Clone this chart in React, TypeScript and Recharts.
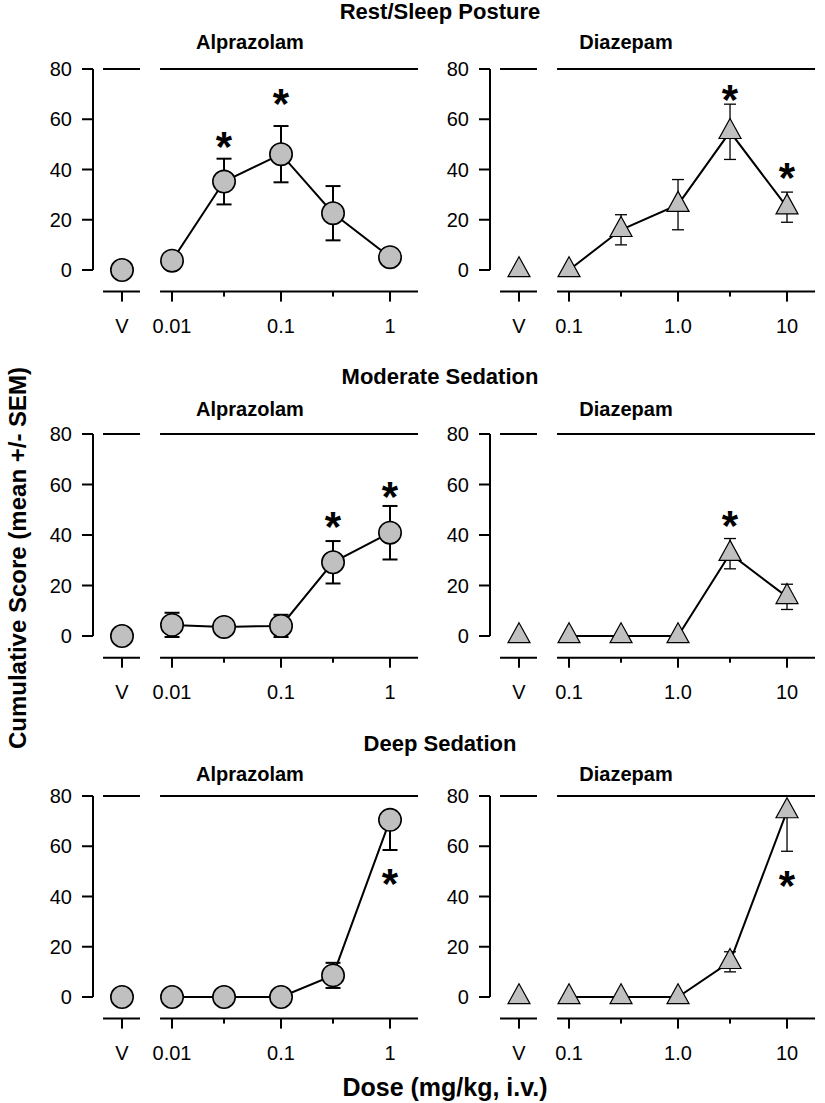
import React from 'react';
import {
  ComposedChart, Line, Scatter, XAxis, YAxis, ErrorBar, ReferenceLine,
} from 'recharts';

// ---- data ----
const alprazolamDoses = [0.01, 0.03, 0.1, 0.3, 1];
const diazepamDoses = [0.1, 0.3, 1, 3, 10];
const alprazolamTickLabels = ['V', '0.01', '', '0.1', '', '1'];
const diazepamTickLabels = ['V', '0.1', '', '1.0', '', '10'];
const scoreTicks = [0, 20, 40, 60, 80];

// Rest/Sleep Posture
const restAlpVehicle = 0;
const restAlpMean = [3.7, 35.2, 46.1, 22.6, 5.1];
const restAlpSem = [0, 9.1, 11.2, 10.8, 0];
const restAlpStars = [null, 53, 70, null, null];
const restDiaVehicle = 0;
const restDiaMean = [0, 16, 26, 55, 25];
const restDiaSem = [0, 6, 10, 11, 6];
const restDiaStars = [null, null, null, 71.5, 40.5];

// Moderate Sedation
const modAlpVehicle = 0;
const modAlpMean = [4.4, 3.6, 4, 29.2, 40.9];
const modAlpSem = [4.8, 0, 4.4, 8.4, 10.6];
const modAlpStars = [null, null, null, 47, 59];
const modDiaVehicle = 0;
const modDiaMean = [0, 0, 0, 32.6, 15.5];
const modDiaSem = [0, 0, 0, 6, 5];
const modDiaStars = [null, null, null, 47.5, null];

// Deep Sedation (upper bars not drawn where they pass the top)
const deepAlpVehicle = 0;
const deepAlpMean = [0, 0, 0, 8.6, 70.5];
const deepAlpSem: (number | number[])[] = [0, 0, 0, 5, [12, 0]];
const deepAlpStars = [null, null, null, null, 49];
const deepDiaVehicle = 0;
const deepDiaMean = [0, 0, 0, 14, 74];
const deepDiaSem: (number | number[])[] = [0, 0, 0, 4, [16, 0]];
const deepDiaStars = [null, null, null, null, 48];

const FONT = '"Liberation Sans", Arial, Helvetica, sans-serif';
const GREY = '#c0c0c0';
const Y_MIN = -8.6;

function Circle({ cx, cy }: any) {
  if (cx == null || cy == null) return null;
  return <circle cx={cx} cy={cy} r={11.2} fill={GREY} stroke="#000" strokeWidth={1.6} />;
}

function Triangle({ cx, cy }: any) {
  if (cx == null || cy == null) return null;
  const pts = `${cx},${cy - 13.3} ${cx + 11},${cy + 6.7} ${cx - 11},${cy + 6.7}`;
  return <polygon points={pts} fill={GREY} stroke="#000" strokeWidth={1.2} />;
}

function Star({ cx, cy }: any) {
  if (cx == null || cy == null) return null;
  return (
    <text x={cx} y={cy + 24} textAnchor="middle" fontSize={42} fontWeight="bold"
      fontFamily={FONT} fill="#000">*</text>
  );
}

function DoseTick(props: any) {
  const { x, y, index, labels } = props;
  const label = labels[index];
  const axisY = y - 10;
  const len = label === '' ? 5 : 10;
  return (
    <g>
      <line x1={x} x2={x} y1={axisY} y2={axisY + len} stroke="#000" strokeWidth={2} />
      {label !== '' && (
        <text x={x} y={axisY + 41} textAnchor="middle" fontSize={20} fontFamily={FONT} fill="#000">
          {label}
        </text>
      )}
    </g>
  );
}

interface PanelProps {
  left: number;
  top: number;
  zero: number;
  doses: number[];
  tickLabels: string[];
  vehicle: number;
  mean: number[];
  sem: (number | number[])[];
  stars: (number | null)[];
  marker: 'circle' | 'triangle';
}

function Panel({ left, top, zero, doses, tickLabels, vehicle, mean, sem, stars, marker }: PanelProps) {
  const first = Math.log10(doses[0]);
  const xMin = first - 0.725;
  const xMax = first + 2.275;
  const vPos = first - 0.459;
  const segV = [first - 0.633, first - 0.294];
  const segMain = [first - 0.11, first + 2.257];
  const marginTop = 15;
  const plotH = (zero - top) * (80 - Y_MIN) / 80;
  const height = marginTop + plotH + 45;
  const Marker = marker === 'circle' ? Circle : Triangle;
  const thick = marker === 'circle' ? 2 : 1.3;

  const points = doses.map((d, i) => ({ x: Math.log10(d), y: mean[i], err: sem[i] }));
  const vehPoint = [{ x: vPos, y: vehicle }];
  const starPoints = doses
    .map((d, i) => ({ x: Math.log10(d), y: stars[i] }))
    .filter((p) => p.y != null);
  const xTicks = [vPos, ...doses.map((d) => Math.log10(d))];

  return (
    <div style={{ position: 'absolute', left, top: top - marginTop }}>
      <ComposedChart width={425} height={height} margin={{ top: marginTop, right: 5, bottom: 0, left: 0 }}>
        <XAxis
          type="number"
          dataKey="x"
          domain={[xMin, xMax]}
          ticks={xTicks}
          interval={0}
          axisLine={false}
          tickLine={false}
          tickSize={10}
          tickMargin={0}
          height={45}
          tick={<DoseTick labels={tickLabels} />}
        />
        <YAxis
          type="number"
          domain={[Y_MIN, 80]}
          ticks={scoreTicks}
          interval={0}
          width={93}
          axisLine={false}
          tickLine={{ stroke: '#000', strokeWidth: 2 }}
          tickSize={11}
          tickMargin={10}
          tick={{ fill: '#000', fontSize: 20, fontFamily: FONT }}
        />
        <ReferenceLine segment={[{ x: xMin, y: 0 }, { x: xMin, y: 80 }]} stroke="#000" strokeWidth={2} />
        <ReferenceLine segment={[{ x: segV[0], y: 80 }, { x: segV[1], y: 80 }]} stroke="#000" strokeWidth={2} />
        <ReferenceLine segment={[{ x: segMain[0], y: 80 }, { x: segMain[1], y: 80 }]} stroke="#000" strokeWidth={2} />
        <ReferenceLine segment={[{ x: segV[0], y: Y_MIN }, { x: segV[1], y: Y_MIN }]} stroke="#000" strokeWidth={2} />
        <ReferenceLine segment={[{ x: segMain[0], y: Y_MIN }, { x: segMain[1], y: Y_MIN }]} stroke="#000" strokeWidth={2} />
        <Line
          data={points}
          dataKey="y"
          stroke="#000"
          strokeWidth={2}
          dot={(p: any) => <Marker key={`m-${p.index}`} cx={p.cx} cy={p.cy} />}
          activeDot={false}
          isAnimationActive={false}
        >
          <ErrorBar dataKey="err" width={marker === 'circle' ? 7.5 : 6} stroke="#000" strokeWidth={thick} direction="y" />
        </Line>
        <Scatter data={vehPoint} dataKey="y" shape={(p: any) => <Marker cx={p.cx} cy={p.cy} />} isAnimationActive={false} />
        <Scatter data={starPoints} dataKey="y" shape={(p: any) => <Star cx={p.cx} cy={p.cy} />} isAnimationActive={false} />
      </ComposedChart>
    </div>
  );
}

const rowTop = [69, 434, 796];
const rowZero = [270, 636, 997];
const rowTitles = ['Rest/Sleep Posture', 'Moderate Sedation', 'Deep Sedation'];
const titleBase = [19, 384, 751];
const subBase = [49, 416, 781];

const rows = [
  {
    alp: { vehicle: restAlpVehicle, mean: restAlpMean, sem: restAlpSem, stars: restAlpStars },
    dia: { vehicle: restDiaVehicle, mean: restDiaMean, sem: restDiaSem, stars: restDiaStars },
  },
  {
    alp: { vehicle: modAlpVehicle, mean: modAlpMean, sem: modAlpSem, stars: modAlpStars },
    dia: { vehicle: modDiaVehicle, mean: modDiaMean, sem: modDiaSem, stars: modDiaStars },
  },
  {
    alp: { vehicle: deepAlpVehicle, mean: deepAlpMean, sem: deepAlpSem, stars: deepAlpStars },
    dia: { vehicle: deepDiaVehicle, mean: deepDiaMean, sem: deepDiaSem, stars: deepDiaStars },
  },
];

export default function App() {
  return (
    <div style={{ position: 'absolute', left: 0, top: 0, width: 825, height: 1103, background: '#fff' }}>
      {rows.map((r, i) => (
        <React.Fragment key={i}>
          <Panel left={0} top={rowTop[i]} zero={rowZero[i]} doses={alprazolamDoses}
            tickLabels={alprazolamTickLabels} marker="circle" {...r.alp} />
          <Panel left={397} top={rowTop[i]} zero={rowZero[i]} doses={diazepamDoses}
            tickLabels={diazepamTickLabels} marker="triangle" {...r.dia} />
        </React.Fragment>
      ))}
      <svg width={825} height={1103} style={{ position: 'absolute', left: 0, top: 0, pointerEvents: 'none' }}
        fontFamily={FONT} fontWeight="bold" fill="#000">
        {rowTitles.map((t, i) => (
          <g key={t}>
            <text x={440} y={titleBase[i]} textAnchor="middle" fontSize={22}>{t}</text>
            <text x={250} y={subBase[i]} textAnchor="middle" fontSize={20}>Alprazolam</text>
            <text x={626} y={subBase[i]} textAnchor="middle" fontSize={20}>Diazepam</text>
          </g>
        ))}
        <text transform="translate(26,558) rotate(-90)" textAnchor="middle" fontSize={24}>
          Cumulative Score (mean +/- SEM)
        </text>
        <text x={445} y={1096} textAnchor="middle" fontSize={25}>Dose (mg/kg, i.v.)</text>
      </svg>
    </div>
  );
}
